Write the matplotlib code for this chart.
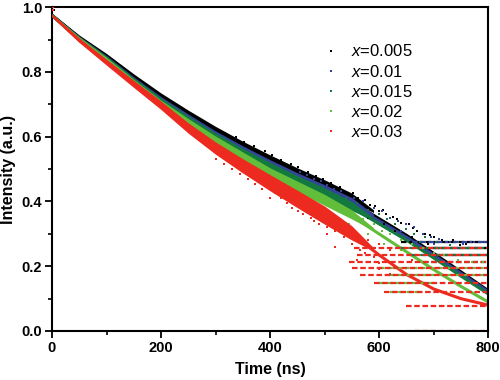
import matplotlib
matplotlib.use("Agg")
import matplotlib.pyplot as plt
from matplotlib.ticker import MultipleLocator

plt.rcParams['font.family'] = ['Liberation Sans', 'DejaVu Sans']
plt.rcParams['mathtext.fontset'] = 'custom'
plt.rcParams['mathtext.it'] = 'Liberation Sans:italic'
plt.rcParams['mathtext.rm'] = 'Liberation Sans'

labels = ['$x$=0.005', '$x$=0.01', '$x$=0.015', '$x$=0.02', '$x$=0.03']
colors = ['#000000', '#34449a', '#127a3e', '#62be3a', '#ec2a1f']

# fitted decay curves, read every 50 ns
fit_t = [0, 50, 100, 150, 200, 250, 300, 350, 400, 450, 500, 550, 600, 650, 700, 750, 800]
fit_black = [0.975, 0.905, 0.846, 0.781, 0.721, 0.667, 0.615, 0.568, 0.525, 0.483, 0.441, 0.398, 0.347, 0.296, 0.24, 0.183, 0.125]
fit_blue = [0.975, 0.904, 0.843, 0.776, 0.714, 0.659, 0.606, 0.559, 0.515, 0.473, 0.433, 0.39, 0.34, 0.29, 0.235, 0.178, 0.122]
fit_dgreen = [0.975, 0.903, 0.841, 0.773, 0.71, 0.653, 0.6, 0.551, 0.507, 0.464, 0.423, 0.381, 0.331, 0.281, 0.226, 0.17, 0.115]
fit_lgreen = [0.975, 0.901, 0.837, 0.768, 0.703, 0.645, 0.59, 0.54, 0.49, 0.447, 0.40, 0.355, 0.30, 0.245, 0.19, 0.138, 0.09]
fit_red = [0.975, 0.898, 0.83, 0.763, 0.697, 0.627, 0.565, 0.51, 0.458, 0.408, 0.358, 0.3, 0.235, 0.175, 0.13, 0.1, 0.08]
fits = [fit_black, fit_blue, fit_dgreen, fit_lgreen, fit_red]

# dense part of the measured data: band centre and half width (0-590 ns)
band_t = [0, 50, 100, 150, 200, 250, 300, 350, 400, 450, 500, 550, 590]
band_centre = [
    [0.976, 0.907, 0.849, 0.785, 0.725, 0.671, 0.62, 0.573, 0.53, 0.488, 0.45, 0.412, 0.37],
    [0.975, 0.904, 0.843, 0.776, 0.714, 0.659, 0.606, 0.559, 0.515, 0.473, 0.435, 0.398, 0.357],
    [0.975, 0.903, 0.841, 0.773, 0.71, 0.653, 0.6, 0.551, 0.507, 0.464, 0.425, 0.386, 0.345],
    [0.975, 0.901, 0.837, 0.768, 0.703, 0.645, 0.59, 0.54, 0.49, 0.447, 0.405, 0.36, 0.315],
    [0.975, 0.898, 0.83, 0.763, 0.697, 0.627, 0.565, 0.51, 0.458, 0.408, 0.358, 0.303, 0.252],
]
band_hw = [0.005, 0.007, 0.008, 0.009, 0.01, 0.011, 0.012, 0.013, 0.014, 0.016, 0.017, 0.014, 0.004]
band_hw_red = [0.005, 0.007, 0.009, 0.011, 0.013, 0.016, 0.019, 0.022, 0.025, 0.027, 0.028, 0.022, 0.005]

# scattered points outside the dense band
pts_t = [
    [3, 300, 318, 337, 352, 371, 390, 404, 421, 438, 452, 470, 484, 497, 512, 528, 540, 553, 562, 575,
     584, 592, 600, 608, 612, 625, 633, 640, 655, 662, 670, 685, 693, 700, 715, 728, 735, 748, 760, 772,
     780, 795, 580, 610, 630, 660, 690],
    [455, 468, 480, 493, 505, 518, 530, 555, 570, 590, 605, 620, 635, 650, 665, 680, 695, 710, 730, 755,
     775, 795, 600, 640, 700, 745],
    [480, 495, 510, 525, 540, 560, 580, 600, 615, 630, 650, 665, 685, 705, 730, 760, 790, 590, 620, 645,
     675, 710],
    [470, 485, 500, 525, 550, 570, 590, 605, 620, 640, 660, 680, 700, 720, 745, 770, 790, 580, 610, 640,
     520, 545],
    [1, 2, 300, 316, 330, 345, 360, 372, 385, 400, 410, 420, 432, 440, 452, 460, 475, 490, 505, 520, 535,
     550, 565, 575, 590, 600, 560, 580, 600, 620, 640, 660, 530, 545, 520, 560, 600, 620, 505, 480],
]
pts_v = [
    [0.99, 0.625, 0.612, 0.598, 0.585, 0.57, 0.556, 0.545, 0.528, 0.515, 0.505, 0.49, 0.48, 0.468, 0.458,
     0.445, 0.43, 0.425, 0.41, 0.405, 0.39, 0.385, 0.37, 0.375, 0.36, 0.352, 0.345, 0.335, 0.33, 0.318,
     0.31, 0.30, 0.295, 0.29, 0.28, 0.276, 0.28, 0.265, 0.27, 0.276, 0.276, 0.255, 0.35, 0.33, 0.31,
     0.29, 0.27],
    [0.49, 0.482, 0.47, 0.462, 0.45, 0.44, 0.432, 0.41, 0.40, 0.38, 0.37, 0.35, 0.34, 0.33, 0.32, 0.30,
     0.29, 0.285, 0.276, 0.27, 0.276, 0.276, 0.34, 0.31, 0.27, 0.255],
    [0.455, 0.445, 0.43, 0.42, 0.41, 0.395, 0.375, 0.36, 0.345, 0.33, 0.315, 0.30, 0.29, 0.276, 0.265,
     0.255, 0.255, 0.34, 0.31, 0.29, 0.276, 0.255],
    [0.43, 0.41, 0.40, 0.385, 0.36, 0.345, 0.33, 0.31, 0.30, 0.28, 0.27, 0.255, 0.24, 0.235, 0.22, 0.214,
     0.214, 0.30, 0.27, 0.25, 0.35, 0.33],
    [1.0, 0.99, 0.53, 0.515, 0.50, 0.485, 0.47, 0.455, 0.44, 0.41, 0.425, 0.41, 0.395, 0.38, 0.37, 0.36,
     0.35, 0.33, 0.32, 0.31, 0.29, 0.27, 0.25, 0.24, 0.23, 0.21, 0.30, 0.28, 0.27, 0.25, 0.235, 0.22,
     0.33, 0.32, 0.26, 0.22, 0.19, 0.175, 0.30, 0.34],
]

# low-count tail: runs of points sitting on the same level (level, start, end)
runs = [
    [(0.276, 640, 800), (0.255, 680, 800), (0.235, 700, 800)],
    [(0.276, 660, 800), (0.255, 700, 790)],
    [(0.255, 640, 800), (0.235, 660, 800), (0.214, 680, 800)],
    [(0.194, 600, 800), (0.173, 620, 800), (0.147, 600, 700), (0.121, 620, 680), (0.0, 650, 700)],
    [(0.255, 555, 800), (0.235, 560, 800), (0.214, 545, 800), (0.194, 550, 800), (0.173, 565, 800),
     (0.147, 590, 800), (0.121, 610, 800), (0.077, 650, 800), (0.0, 665, 800)],
]

fig = plt.figure(figsize=(5, 3.8), dpi=100)
ax = fig.add_axes([0.104, 0.129, 0.872, 0.852])

for i in range(5):
    ax.plot(fit_t, fits[i], color=colors[i], lw=2.2, zorder=2)
for i in range(5):
    hw = band_hw_red if i == 4 else band_hw
    lo = [c - h for c, h in zip(band_centre[i], hw)]
    hi = [c + h for c, h in zip(band_centre[i], hw)]
    ax.fill_between(band_t, lo, hi, color=colors[i], lw=0, zorder=3)
    for lev, t0, t1 in runs[i]:
        ax.hlines(lev, t0, t1, color=colors[i], lw=1.6, linestyles=(0, (2.5, 1.2)), zorder=2.5)
    ax.plot(pts_t[i], pts_v[i], 's', ms=1.7, color=colors[i], mew=0, zorder=3, label=labels[i])

ax.set_xlim(0, 800)
ax.set_ylim(0, 1.0)
ax.xaxis.set_major_locator(MultipleLocator(200))
ax.xaxis.set_minor_locator(MultipleLocator(100))
ax.set_yticks([0, 0.2, 0.4, 0.6, 0.8, 1.0])
ax.set_yticklabels(['%.1f' % v for v in [0, 0.2, 0.4, 0.6, 0.8, 1.0]])
ax.yaxis.set_minor_locator(MultipleLocator(0.1))
ax.tick_params(which='major', direction='out', length=5, width=1.3, labelsize=10.5, pad=2)
ax.tick_params(which='minor', direction='out', length=3, width=1.2)
for lab in ax.get_xticklabels() + ax.get_yticklabels():
    lab.set_fontweight('bold')
for s in ax.spines.values():
    s.set_linewidth(1.5)

ax.set_xlabel('Time (ns)', fontsize=11.5, fontweight='bold', labelpad=5)
ax.set_ylabel('Intensity (a.u.)', fontsize=11.5, fontweight='bold', labelpad=4)

leg = ax.legend(loc='upper left', bbox_to_anchor=(0.625, 0.888), frameon=False, fontsize=12,
                handlelength=0.8, handletextpad=0.8, labelspacing=0.25, markerscale=1.0,
                borderaxespad=0, borderpad=0)

fig.savefig('out.png', dpi=100)
